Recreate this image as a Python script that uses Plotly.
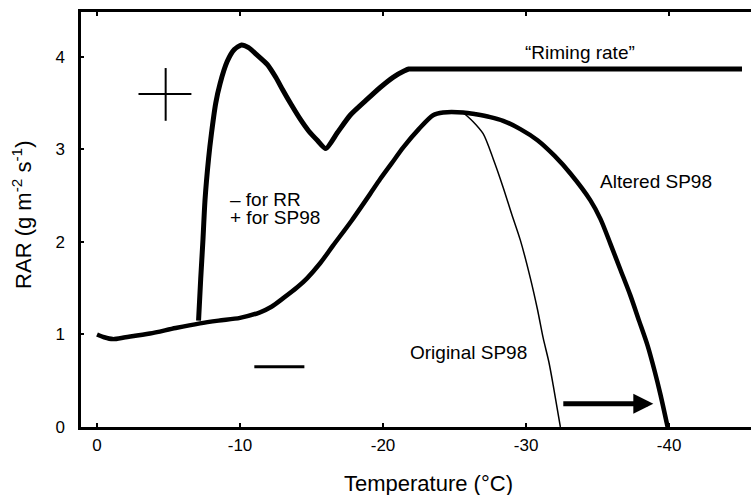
import plotly.graph_objects as go

# ---- data ----
rr_T = [-7.1, -7.25, -7.4, -7.55, -7.8, -8.0, -8.3, -8.6, -9.1, -9.6, -10.1, -10.6, -11.2,
        -11.9, -12.5, -13.0, -13.6, -14.2, -14.8, -15.4, -16.0, -16.8, -17.7, -18.8, -19.8,
        -20.7, -21.5, -21.8, -22.3, -30.0, -45.1]
rr_v = [1.15, 1.6, 2.0, 2.45, 2.9, 3.17, 3.5, 3.71, 3.95, 4.08, 4.13, 4.1, 4.02,
        3.92, 3.78, 3.64, 3.48, 3.33, 3.2, 3.10, 3.01, 3.18, 3.37, 3.53, 3.67,
        3.78, 3.85, 3.87, 3.87, 3.87, 3.87]

alt_T = [0, -0.5, -1.1, -2.0, -3.7, -5.5, -7.2, -8.5, -10.0, -11.4, -12.2, -13.0, -14.0,
         -14.7, -15.6, -16.5, -17.8, -19.1, -19.8, -20.6, -21.4, -22.5, -23.5, -24.2, -25.6,
         -26.5, -27.5, -28.4, -29.6, -30.8, -32.0, -33.1, -34.5, -35.2, -35.9, -36.6, -37.3,
         -37.9, -38.5, -39.0, -39.4, -39.9]
alt_v = [1.0, 0.97, 0.95, 0.97, 1.01, 1.07, 1.12, 1.15, 1.18, 1.24, 1.3, 1.39, 1.51,
         1.61, 1.77, 1.96, 2.23, 2.52, 2.68, 2.85, 3.02, 3.22, 3.37, 3.40, 3.40,
         3.38, 3.35, 3.31, 3.22, 3.10, 2.93, 2.74, 2.45, 2.25, 1.98, 1.70, 1.42,
         1.15, 0.88, 0.6, 0.35, 0.0]

orig_T = [-25.6, -26.3, -27.0, -27.7, -28.4, -29.0, -29.6, -30.3, -30.8, -31.2, -31.6, -31.9, -32.4]
orig_v = [3.40, 3.30, 3.17, 2.9, 2.59, 2.3, 2.02, 1.61, 1.27, 0.96, 0.7, 0.45, 0.0]

x_ticks = [0, -10, -20, -30, -40]
x_ticklabels = ["0", "-10", "-20", "-30", "-40"]
y_ticks = [0, 1, 2, 3, 4]
y_ticklabels = ["0", "1", "2", "3", "4"]

arrow_T = [-32.5, -38.9]
arrow_v = [0.25, 0.25]
plus_T = [-2.9, -6.6, -4.8]
plus_v = [3.6, 3.31, 3.88]
minus_T = [-11.0, -14.5]
minus_v = [0.65]

FONT = "Liberation Sans, Arial, Helvetica, sans-serif"

fig = go.Figure()
fig.add_trace(go.Scatter(x=rr_T, y=rr_v, mode="lines",
                         line=dict(color="black", width=5, shape="spline", smoothing=0.6),
                         showlegend=False))
fig.add_trace(go.Scatter(x=alt_T, y=alt_v, mode="lines",
                         line=dict(color="black", width=4.5, shape="spline", smoothing=0.8),
                         showlegend=False))
fig.add_trace(go.Scatter(x=orig_T, y=orig_v, mode="lines",
                         line=dict(color="black", width=1.5, shape="spline", smoothing=0.8),
                         showlegend=False))

# plus / minus symbols
fig.add_shape(type="line", x0=plus_T[0], x1=plus_T[1], y0=plus_v[0], y1=plus_v[0],
              line=dict(color="black", width=2))
fig.add_shape(type="line", x0=plus_T[2], x1=plus_T[2], y0=plus_v[1], y1=plus_v[2],
              line=dict(color="black", width=2))
fig.add_shape(type="line", x0=minus_T[0], x1=minus_T[1], y0=minus_v[0], y1=minus_v[0],
              line=dict(color="black", width=3))

# arrow
fig.add_annotation(x=arrow_T[1], y=arrow_v[1], ax=arrow_T[0], ay=arrow_v[0],
                   xref="x", yref="y", axref="x", ayref="y", text="",
                   showarrow=True, arrowhead=2, arrowsize=0.8, arrowwidth=5,
                   arrowcolor="black", standoff=0, startstandoff=0)

tf = dict(family=FONT, size=19, color="black")
fig.add_annotation(x=-33.8, y=4.05, text="\u201cRiming rate\u201d", showarrow=False,
                   xanchor="center", yanchor="middle", font=tf)
fig.add_annotation(x=-35.0, y=2.65, text="Altered SP98", showarrow=False,
                   xanchor="left", yanchor="middle", font=tf)
fig.add_annotation(x=-21.75, y=0.81, text="Original SP98", showarrow=False,
                   xanchor="left", yanchor="middle", font=tf)
fig.add_annotation(x=-9.16, y=2.46, text="\u2013 for RR", showarrow=False,
                   xanchor="left", yanchor="middle", font=tf)
fig.add_annotation(x=-9.16, y=2.26, text="+ for SP98", showarrow=False,
                   xanchor="left", yanchor="middle", font=tf)

# axis titles
fig.add_annotation(xref="paper", yref="paper", x=0.518, y=0, yshift=-56,
                   text="Temperature (\u00b0C)", showarrow=False,
                   xanchor="center", yanchor="middle",
                   font=dict(family=FONT, size=22, color="black"))
fig.add_annotation(xref="paper", yref="paper", x=0, xshift=-59, y=0.511,
                   text="RAR (g m<sup>-2</sup> s<sup>-1</sup>)", showarrow=False,
                   textangle=-90, xanchor="center", yanchor="middle",
                   font=dict(family=FONT, size=22, color="black"))

fig.update_layout(
    width=751, height=495,
    margin=dict(l=81, r=0, t=12, b=68),
    paper_bgcolor="white", plot_bgcolor="white",
    font=dict(family=FONT, color="black"),
    xaxis=dict(range=[1.12, -45.73], tickvals=x_ticks, ticktext=x_ticklabels,
               showgrid=False, zeroline=False, showline=True, linecolor="black",
               linewidth=2.5, mirror="ticks", ticks="inside", ticklen=4, tickwidth=2,
               tickcolor="black", tickfont=dict(family=FONT, size=17, color="black"),
               ticklabelstandoff=1),
    yaxis=dict(range=[0, 4.486], tickvals=y_ticks, ticktext=y_ticklabels,
               showgrid=False, zeroline=False, showline=True, linecolor="black",
               linewidth=2.5, ticks="inside", ticklen=3, tickwidth=2,
               tickcolor="black", tickfont=dict(family=FONT, size=17, color="black"),
               ticklabelstandoff=10),
)

fig.write_html("out.html")
